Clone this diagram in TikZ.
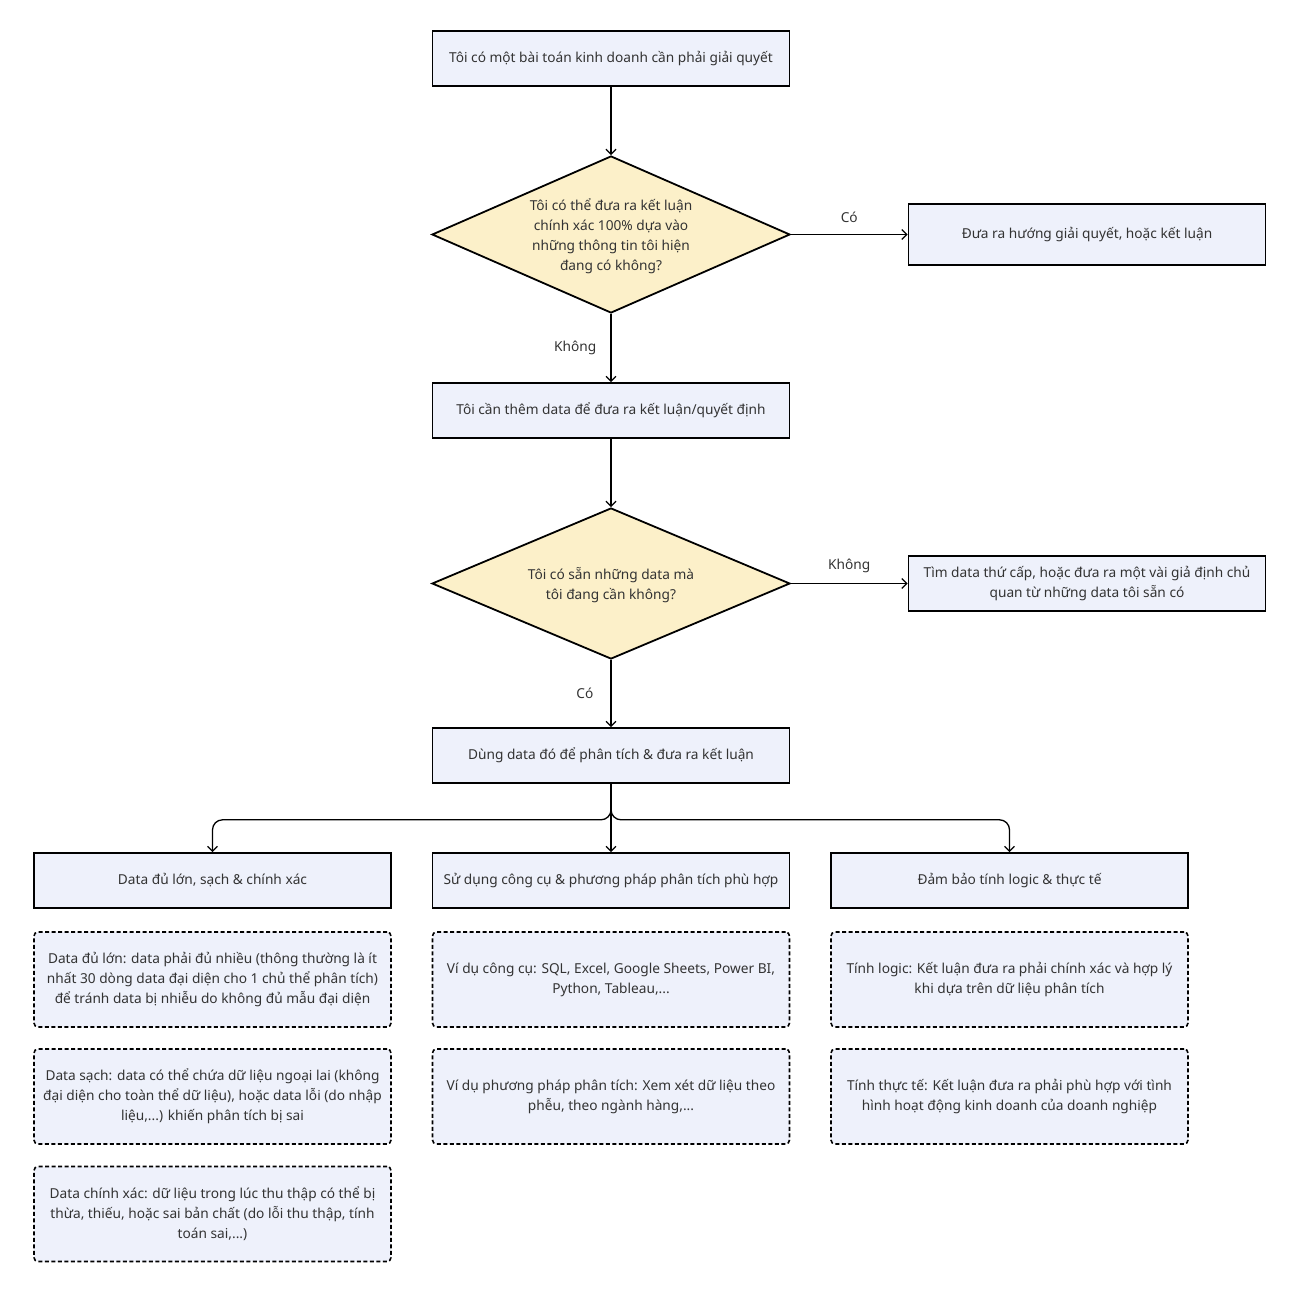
\documentclass[tikz,border=0pt]{standalone}
\usepackage{fontspec}
\setmainfont{Noto Sans}
\usetikzlibrary{shapes.geometric,arrows.meta}
\definecolor{boxfill}{HTML}{EEF1FB}
\definecolor{dfill}{HTML}{FCF0C9}
\definecolor{txt}{HTML}{333333}
\begin{document}
\begin{tikzpicture}[x=1pt,y=-1pt,
  every node/.style={font=\fontsize{13.7}{20}\selectfont, text=txt},
  procbox/.style={draw=black, line width=1.6pt, fill=boxfill, minimum width=357pt, minimum height=55pt, align=center, inner sep=0pt},
  notebox/.style={draw=black, line width=1.6pt, dash pattern=on 4pt off 2.5pt, rounded corners=4pt, fill=boxfill, minimum width=357pt, minimum height=95pt, align=center, inner sep=0pt},
  decbox/.style={draw=black, line width=1.8pt, fill=dfill, diamond, minimum width=358pt, inner sep=0pt},
  arr/.style={draw=black, line width=1.3pt, -{Straight Barb[length=5pt,width=10pt,line width=1.3pt]}},
  lbl/.style={inner sep=0pt}
]
\useasboundingbox (0,0) rectangle (1300,1292);
\fill[white] (0,0) rectangle (1300,1292);

\node[procbox] (b1) at (611,58.5) {\raisebox{-1.5pt}{Tôi có một bài toán kinh doanh cần phải giải quyết}};
\node[decbox, minimum height=157pt] (d1) at (611,234.5) {};
\node[lbl, align=center] (d1t) at (611,236) {Tôi có thể đưa ra kết luận\\chính xác 100\% dựa vào\\những thông tin tôi hiện\\đang có không?};
\node[procbox, minimum height=61pt] (r1) at (1087,234.5) {\raisebox{-1.5pt}{Đưa ra hướng giải quyết, hoặc kết luận}};
\node[procbox] (b2) at (611,410.5) {\raisebox{-1.5pt}{Tôi cần thêm data để đưa ra kết luận/quyết định}};
\node[decbox, minimum height=151pt] (d2) at (611,583.5) {};
\node[lbl, align=center] (d2t) at (611,585.5) {Tôi có sẵn những data mà\\tôi đang cần không?};
\node[procbox] (r2) at (1087,583.5) {Tìm data thứ cấp, hoặc đưa ra một vài giả định chủ\\quan từ những data tôi sẵn có};
\node[procbox] (b3) at (611,755.5) {\raisebox{-1.5pt}{Dùng data đó để phân tích \& đưa ra kết luận}};

\node[procbox] (c1) at (212.5,880.5) {\raisebox{-1.5pt}{Data đủ lớn, sạch \& chính xác}};
\node[procbox] (c2) at (611,880.5) {\raisebox{-1.5pt}{Sử dụng công cụ \& phương pháp phân tích phù hợp}};
\node[procbox] (c3) at (1009.5,880.5) {\raisebox{-1.5pt}{Đảm bảo tính logic \& thực tế}};

\node[notebox] (n11) at (212.5,979.5) {Data đủ lớn: data phải đủ nhiều (thông thường là ít\\nhất 30 dòng data đại diện cho 1 chủ thể phân tích)\\để tránh data bị nhiễu do không đủ mẫu đại diện};
\node[notebox] (n12) at (212.5,1096.5) {Data sạch: data có thể chứa dữ liệu ngoại lai (không\\đại diện cho toàn thể dữ liệu), hoặc data lỗi (do nhập\\liệu,...) khiến phân tích bị sai};
\node[notebox] (n13) at (212.5,1214) {Data chính xác: dữ liệu trong lúc thu thập có thể bị\\thừa, thiếu, hoặc sai bản chất (do lỗi thu thập, tính\\toán sai,...)};
\node[notebox] (n21) at (611,979.5) {Ví dụ công cụ: SQL, Excel, Google Sheets, Power BI,\\Python, Tableau,...};
\node[notebox] (n22) at (611,1096.5) {Ví dụ phương pháp phân tích: Xem xét dữ liệu theo\\phễu, theo ngành hàng,...};
\node[notebox] (n31) at (1009.5,979.5) {Tính logic: Kết luận đưa ra phải chính xác và hợp lý\\khi dựa trên dữ liệu phân tích};
\node[notebox] (n32) at (1009.5,1096.5) {Tính thực tế: Kết luận đưa ra phải phù hợp với tình\\hình hoạt động kinh doanh của doanh nghiệp};

\draw[arr] (b1.south) -- (d1.north);
\draw[arr] (d1.east) -- node[lbl, above=11pt] (l1) {Có} (r1.west);
\draw[arr] (d1.south) -- node[lbl, left=14pt, pos=0.5] (l2) {Không} (b2.north);
\draw[arr] (b2.south) -- (d2.north);
\draw[arr] (d2.east) -- node[lbl, above=10pt] (l3) {Không} (r2.west);
\draw[arr] (d2.south) -- node[lbl, left=17pt, pos=0.5] (l4) {Có} (b3.north);
\draw[arr, rounded corners=10pt] (b3.south) -- ++(0,36) -| (c1.north);
\draw[arr, rounded corners=10pt] (b3.south) -- ++(0,36) -| (c3.north);
\draw[arr] (b3.south) -- (c2.north);
\end{tikzpicture}
\end{document}
